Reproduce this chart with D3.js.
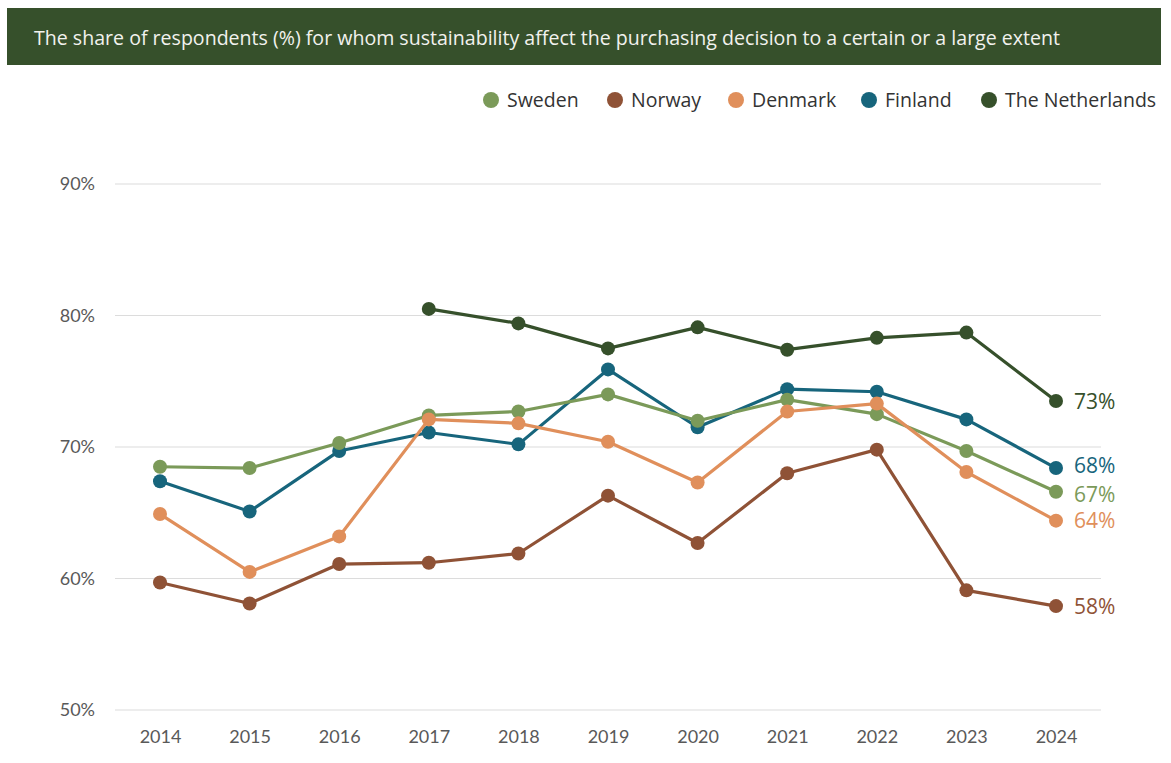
<!DOCTYPE html>
<html><head><meta charset="utf-8">
<script src="https://cdn.jsdelivr.net/npm/d3@7"></script>
<style>body{margin:0;background:#fff;}svg{display:block;font-family:Lato,"Open Sans",sans-serif;}</style>
</head><body>
<svg id="c" width="1171" height="763"></svg>
<script>
const title = "The share of respondents (%) for whom sustainability affect the purchasing decision to a certain or a large extent";
const years = [2014,2015,2016,2017,2018,2019,2020,2021,2022,2023,2024];
const yTicks = [50,60,70,80,90];
const seriesNames = ["Sweden","Norway","Denmark","Finland","The Netherlands"];
const seriesColors = ["#7b9a59","#8f5236","#e08f5b","#17657c","#36502b"];
const sweden = [68.5,68.4,70.3,72.4,72.7,74.0,72.0,73.6,72.5,69.7,66.6];
const norway = [59.7,58.1,61.1,61.2,61.9,66.3,62.7,68.0,69.8,59.1,57.9];
const denmark = [64.9,60.5,63.2,72.1,71.8,70.4,67.3,72.7,73.3,68.1,64.4];
const finland = [67.4,65.1,69.7,71.1,70.2,75.9,71.5,74.4,74.2,72.1,68.4];
const netherlands = [null,null,null,80.5,79.4,77.5,79.1,77.4,78.3,78.7,73.5];
const endLabels = ["67%","58%","64%","68%","73%"];
const allValues = [sweden,norway,denmark,finland,netherlands];

const svg = d3.select("#c");
// title bar
svg.append("rect").attr("x",7).attr("y",8).attr("width",1154).attr("height",57).attr("fill","#36502b");
svg.append("text").attr("x",34).attr("y",45).attr("fill","#f2f2ee").attr("font-size",19.5)
  .attr("font-family","'Open Sans',sans-serif").attr("textLength",1026).attr("lengthAdjust","spacingAndGlyphs").text(title);

const x = d3.scalePoint().domain(years).range([160,1056]);
const y = d3.scaleLinear().domain([50,90]).range([710,184]);

// grid
svg.append("g").selectAll("line").data(yTicks).join("line")
  .attr("x1",115).attr("x2",1101).attr("y1",d=>y(d)).attr("y2",d=>y(d))
  .attr("stroke","#dcdcdc").attr("stroke-width",1.2);

const yAxis = svg.append("g").attr("transform","translate(95,0)")
  .call(d3.axisLeft(y).tickValues(yTicks).tickFormat(d=>d+"%").tickSize(0).tickPadding(0));
yAxis.select(".domain").remove();
yAxis.selectAll("text").attr("font-size",18).attr("fill","#595959").attr("font-family","Lato,sans-serif");

const xAxis = svg.append("g").attr("transform","translate(0,737)")
  .call(d3.axisBottom(x).tickSize(0).tickPadding(0));
xAxis.select(".domain").remove();
xAxis.selectAll("text").attr("font-size",18).attr("fill","#595959").attr("font-family","Lato,sans-serif").attr("dy","0.35em");

const order = [3,0,1,2,4];
const labelNudge = [3,0,0,-3,0];
const line = d3.line().defined(d=>d.v!=null).x(d=>x(d.year)).y(d=>y(d.v));
order.forEach(i=>{
  const data = years.map((yr,k)=>({year:yr,v:allValues[i][k]}));
  const g = svg.append("g");
  g.append("path").datum(data).attr("d",line).attr("fill","none")
    .attr("stroke",seriesColors[i]).attr("stroke-width",3.2).attr("stroke-linejoin","round");
  g.selectAll("circle").data(data.filter(d=>d.v!=null)).join("circle")
    .attr("cx",d=>x(d.year)).attr("cy",d=>y(d.v)).attr("r",7).attr("fill",seriesColors[i]);
  const last = data[data.length-1];
  g.append("text").attr("x",x(last.year)+18).attr("y",y(last.v)+labelNudge[i]).attr("dy","0.36em")
    .attr("font-size",21).attr("font-family","'Open Sans',sans-serif").attr("fill",seriesColors[i]).text(endLabels[i]);
});

// legend
const legX = [491,615,736,869,989];
const lg = svg.append("g");
seriesNames.forEach((n,i)=>{
  lg.append("circle").attr("cx",legX[i]).attr("cy",100).attr("r",8).attr("fill",seriesColors[i]);
  lg.append("text").attr("x",legX[i]+16).attr("y",100).attr("dy","0.36em").attr("font-size",19.5)
    .attr("font-family","'Open Sans',sans-serif").attr("fill","#333").text(n);
});
</script>
</body></html>
